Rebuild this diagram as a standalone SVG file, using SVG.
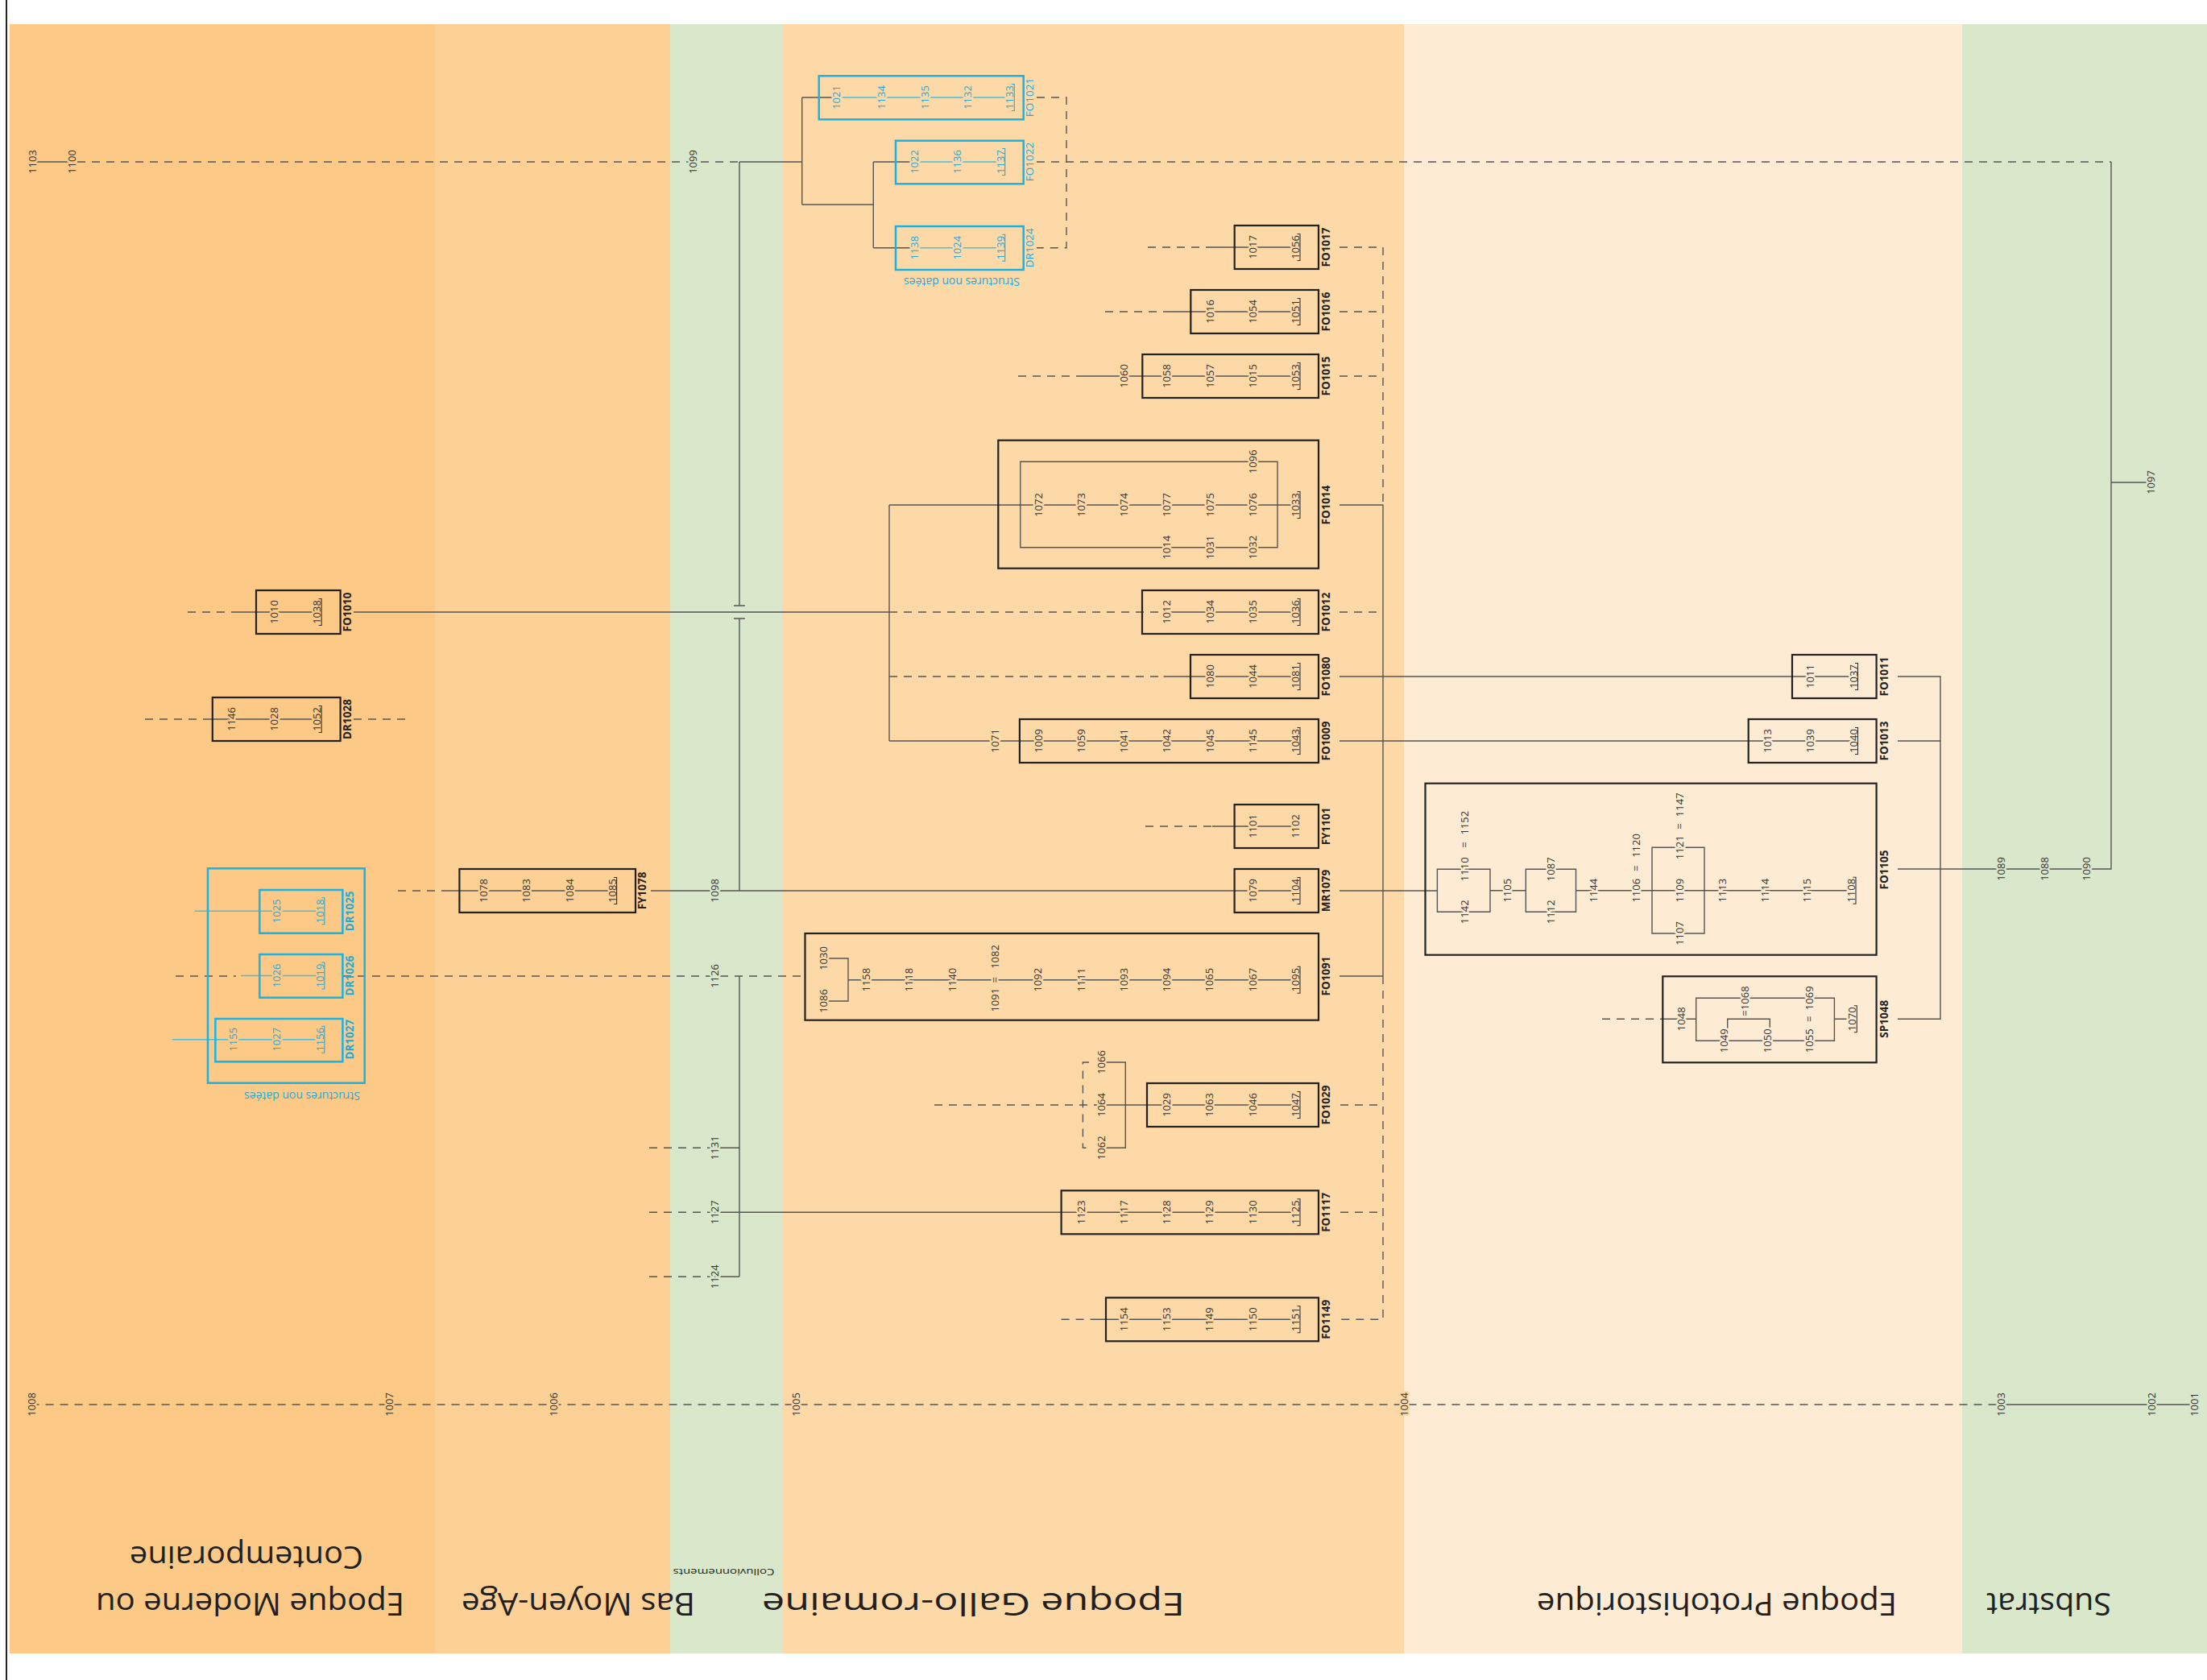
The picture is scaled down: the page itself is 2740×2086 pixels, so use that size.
<svg xmlns="http://www.w3.org/2000/svg" width="2740" height="2086" viewBox="0 0 2740 2086">
<defs><path id="ub" d="M-3.5 -16.5H0V16.5H-3.5"/></defs>
<style>
text{font-family:"Open Sans","Liberation Sans",sans-serif}
.n{font-size:13px;fill:#333;text-anchor:middle;dominant-baseline:central;stroke-width:5px;paint-order:stroke;stroke-linejoin:round}
.c{fill:#2AA8D6}
.h1{stroke:#FCC987}.h2{stroke:#FDD096}.hg{stroke:#D9E7CB}.h4{stroke:#FED9A8}.h5{stroke:#FEEBD3}
.lb{font-size:13.5px;font-weight:700;fill:#222;text-anchor:middle;dominant-baseline:central}
.lc{fill:#22A9DC}.lr{font-weight:400}
.t{font-size:38px;fill:#231F20;text-anchor:middle}
.s{fill:none;stroke:#555;stroke-width:1.4}
.d{fill:none;stroke:#555;stroke-width:1.4;stroke-dasharray:10 8}
.cy{fill:none;stroke:#4DBCD6;stroke-width:1.4}
.bx{fill:none;stroke:#222;stroke-width:2.2}
.cb{fill:none;stroke:#16B4E6;stroke-width:2.5}
.u{fill:none;stroke:#333;stroke-width:1.1}
.uc{fill:none;stroke:#2AA8D6;stroke-width:1.1}
</style>
<g id="bands">
<rect x="12" y="30" width="528" height="2023" fill="#FCC987"/>
<rect x="540" y="30" width="292" height="2023" fill="#FDD096"/>
<rect x="832" y="30" width="139" height="2023" fill="#D9E7CB"/>
<rect x="971" y="30" width="772" height="2023" fill="#FED9A8"/>
<rect x="1743" y="30" width="693" height="2023" fill="#FEEBD3"/>
<rect x="2436" y="30" width="304" height="2023" fill="#D9E7CB"/>
<line x1="8" y1="0" x2="8" y2="2086" stroke="#222" stroke-width="2"/>
</g>
<g id="titles">
<text class="t" x="310.5" y="1978" transform="rotate(180 310.5 1978)" textLength="383" lengthAdjust="spacingAndGlyphs">Epoque Moderne ou</text>
<text class="t" x="306" y="1920" transform="rotate(180 306 1920)" textLength="290" lengthAdjust="spacingAndGlyphs">Contemporaine</text>
<text class="t" x="718" y="1978" transform="rotate(180 718 1978)" textLength="290" lengthAdjust="spacingAndGlyphs">Bas Moyen-Age</text>
<text class="t" x="898.5" y="1948" transform="rotate(180 898.5 1948)" textLength="126" lengthAdjust="spacingAndGlyphs" style="font-size:10.5px">Colluvionnements</text>
<text class="t" x="1208.5" y="1978" transform="rotate(180 1208.5 1978)" textLength="525" lengthAdjust="spacingAndGlyphs">Epoque Gallo-romaine</text>
<text class="t" x="2131.5" y="1978" transform="rotate(180 2131.5 1978)" textLength="447" lengthAdjust="spacingAndGlyphs">Epoque Protohistorique</text>
<text class="t" x="2543.5" y="1978" transform="rotate(180 2543.5 1978)" textLength="155" lengthAdjust="spacingAndGlyphs">Substrat</text>
</g>
<g id="connectors">
<path class="s" d="M40 201H89 M918 201H995.7 M995.7 121V254 M995.7 121H1038 M995.7 254H1084.3 M1084.3 201V307.7 M1084.3 201H1135 M1084.3 307.7H1135 M918 201V752 M911 752H925 M911 768H925 M918 768V1106 M918 1212V1585 M2621 201V1079H2484 M2621 599H2670 M2356 1079H2484 M1503 307H1608 M1450 387H1608 M1342 467H1608 M1104 627H1608 M1266.8 573.3H1586V679.7H1266.8Z M1663 627H1717V1212 M1448 760H1608 M290 760H393 M439 760H1104 M1104 627V920 M1444.6 840H1608 M1663 840H2300.5 M1104 920H1608 M1663 920H2300.5 M2356 840H2409V1265.3H2356 M2356 920H2409 M258 893H393 M1505 1026H1608 M554 1106H760 M808 1106H1608 M1663 1106H1784.4 M1022 1190H1053V1243H1022 M1053 1216.7H1608 M1663 1212H1717 M1366.7 1319H1397.3V1425.3H1366.7 M1366.7 1372H1608 M887 1425.3H918 M887 1505.3H1608 M887 1585.3H918 M1361 1638.3H1608 M1784.4 1079.3H1850V1132.3H1784.4Z M1850 1105.7H1894.3 M1894.3 1079.3H1956.5V1132.3H1894.3Z M1956.5 1105.7H2298 M2051 1052.3H2116V1159H2051Z M2064.3 1265.3H2105.7 M2105.7 1239.3H2277.4V1292.3H2105.7Z M2144.7 1278V1265.3H2197.3V1278 M2277.4 1265.3H2299.3 M2484 1744H2724"/>
<path class="d" d="M96 201H918 M1425 307H1503 M1372 387H1450 M1264 467H1342 M1663 307H1717V627 M1663 387H1717 M1663 467H1717 M1104 760H1448 M1663 760H1717 M233 760H290 M1104 840H1444.6 M180 893H258 M439 893H511 M1422 1026H1505 M494 1106H554 M218 1212H293 M426 1212H999.5 M1160 1372H1366.7 M1352 1319H1344.4V1425.3H1352 M1664 1372H1717 M1717 1212V1638.3H1664 M1664 1505.3H1717 M806 1425.3H887 M806 1505.3H887 M806 1585.3H887 M1317.6 1638.3H1361 M1287 121H1324V307.7H1287 M1287 201H2621 M1989 1265.3H2064.3 M38.5 1744H2484"/>
<path class="cy" d="M1038 121H1253.3 M1135 201H1241.7 M1135 307.7H1241.7 M241.5 1131.3H397 M299 1211.5H397 M213.8 1290.7H397"/>
</g>
<g id="u1103"><text class="n h1" transform="translate(40 201)rotate(-90)">1103</text></g>
<g id="u1100"><text class="n h1" transform="translate(89 201)rotate(-90)">1100</text></g>
<g id="u1099"><text class="n hg" transform="translate(860 201)rotate(-90)">1099</text></g>
<g id="u1098"><text class="n hg" transform="translate(886.5 1106)rotate(-90)">1098</text></g>
<g id="u1126"><text class="n hg" transform="translate(886.5 1212)rotate(-90)">1126</text></g>
<g id="u1131"><text class="n hg" transform="translate(887 1425.3)rotate(-90)">1131</text></g>
<g id="u1127"><text class="n hg" transform="translate(887 1505.3)rotate(-90)">1127</text></g>
<g id="u1124"><text class="n hg" transform="translate(887 1585.3)rotate(-90)">1124</text></g>
<g id="u1097"><text class="n hg" transform="translate(2670 599)rotate(-90)">1097</text></g>
<g id="u1089"><text class="n hg" transform="translate(2484 1079)rotate(-90)">1089</text></g>
<g id="u1088"><text class="n hg" transform="translate(2537.5 1079)rotate(-90)">1088</text></g>
<g id="u1090"><text class="n hg" transform="translate(2590 1079)rotate(-90)">1090</text></g>
<g id="u1060"><text class="n h4" transform="translate(1394.5 467)rotate(-90)">1060</text></g>
<g id="u1071"><text class="n h4" transform="translate(1235 920)rotate(-90)">1071</text></g>
<g id="u1066"><text class="n h4" transform="translate(1366.7 1319)rotate(-90)">1066</text></g>
<g id="u1064"><text class="n h4" transform="translate(1366.7 1372)rotate(-90)">1064</text></g>
<g id="u1062"><text class="n h4" transform="translate(1366.7 1425.3)rotate(-90)">1062</text></g>
<g id="bottom-row">
<text class="n h1" transform="translate(38.5 1744)rotate(-90)">1008</text>
<text class="n h1" transform="translate(482.5 1744)rotate(-90)">1007</text>
<text class="n h2" transform="translate(687 1744)rotate(-90)">1006</text>
<text class="n h4" transform="translate(987.8 1744)rotate(-90)">1005</text>
<text class="n h4" transform="translate(1743 1744)rotate(-90)">1004</text>
<text class="n hg" transform="translate(2484 1744)rotate(-90)">1003</text>
<text class="n hg" transform="translate(2671 1744)rotate(-90)">1002</text>
<text class="n hg" transform="translate(2724 1744)rotate(-90)">1001</text>
</g>
<g id="FO1021"><rect class="cb" x="1016.7" y="94.3" width="254" height="54"/>
<text class="n c h4" transform="translate(1038.3 121)rotate(-90)">1021</text>
<text class="n c h4" transform="translate(1094 121)rotate(-90)">1134</text>
<text class="n c h4" transform="translate(1148.3 121)rotate(-90)">1135</text>
<text class="n c h4" transform="translate(1201 121)rotate(-90)">1132</text>
<text class="n c h4" transform="translate(1253.3 121)rotate(-90)">1133</text>
<use href="#ub" x="1259.3" y="121" class="uc"/>
<text class="lb lc lr" transform="translate(1278.3 121)rotate(-90)">FO1021</text></g>
<g id="FO1022"><rect class="cb" x="1112" y="174.7" width="158.7" height="53.6"/>
<text class="n c h4" transform="translate(1135 201)rotate(-90)">1022</text>
<text class="n c h4" transform="translate(1188.3 201)rotate(-90)">1136</text>
<text class="n c h4" transform="translate(1241.7 201)rotate(-90)">1137</text>
<use href="#ub" x="1247.7" y="201" class="uc"/>
<text class="lb lc lr" transform="translate(1278.3 201)rotate(-90)">FO1022</text></g>
<g id="DR1024"><rect class="cb" x="1112" y="281" width="158.7" height="54"/>
<text class="n c h4" transform="translate(1135 307.7)rotate(-90)">1138</text>
<text class="n c h4" transform="translate(1188.3 307.7)rotate(-90)">1024</text>
<text class="n c h4" transform="translate(1241.7 307.7)rotate(-90)">1139</text>
<use href="#ub" x="1247.7" y="307.7" class="uc"/>
<text class="lb lc lr" transform="translate(1278.3 307.7)rotate(-90)">DR1024</text></g>
<g id="note-top"><text x="1194" y="345" transform="rotate(180 1194 345)" textLength="144" lengthAdjust="spacingAndGlyphs" style="font-size:14px;fill:#22A9DC;text-anchor:middle">Structures non datées</text></g>
<g id="FO1017"><rect class="bx" x="1532.7" y="280" width="104.3" height="54"/>
<text class="n h4" transform="translate(1555 307)rotate(-90)">1017</text>
<text class="n h4" transform="translate(1608 307)rotate(-90)">1056</text>
<use href="#ub" x="1614" y="307" class="u"/>
<text class="lb" transform="translate(1646 307)rotate(-90)">FO1017</text></g>
<g id="FO1016"><rect class="bx" x="1478.3" y="360" width="158.7" height="54"/>
<text class="n h4" transform="translate(1501.5 387)rotate(-90)">1016</text>
<text class="n h4" transform="translate(1555 387)rotate(-90)">1054</text>
<text class="n h4" transform="translate(1608 387)rotate(-90)">1051</text>
<use href="#ub" x="1614" y="387" class="u"/>
<text class="lb" transform="translate(1646 387)rotate(-90)">FO1016</text></g>
<g id="FO1015"><rect class="bx" x="1418.3" y="440" width="218.7" height="54"/>
<text class="n h4" transform="translate(1448 467)rotate(-90)">1058</text>
<text class="n h4" transform="translate(1501.5 467)rotate(-90)">1057</text>
<text class="n h4" transform="translate(1555 467)rotate(-90)">1015</text>
<text class="n h4" transform="translate(1608 467)rotate(-90)">1053</text>
<use href="#ub" x="1614" y="467" class="u"/>
<text class="lb" transform="translate(1646 467)rotate(-90)">FO1015</text></g>
<g id="FO1014"><rect class="bx" x="1239.3" y="546.7" width="397.7" height="159"/>
<text class="n h4" transform="translate(1288.5 627)rotate(-90)">1072</text>
<text class="n h4" transform="translate(1341.5 627)rotate(-90)">1073</text>
<text class="n h4" transform="translate(1394.5 627)rotate(-90)">1074</text>
<text class="n h4" transform="translate(1448 627)rotate(-90)">1077</text>
<text class="n h4" transform="translate(1501.5 627)rotate(-90)">1075</text>
<text class="n h4" transform="translate(1555 627)rotate(-90)">1076</text>
<text class="n h4" transform="translate(1608 627)rotate(-90)">1033</text>
<use href="#ub" x="1614" y="627" class="u"/>
<text class="n h4" transform="translate(1555 573.3)rotate(-90)">1096</text>
<text class="n h4" transform="translate(1448 679.7)rotate(-90)">1014</text>
<text class="n h4" transform="translate(1501.5 679.7)rotate(-90)">1031</text>
<text class="n h4" transform="translate(1555 679.7)rotate(-90)">1032</text>
<text class="lb" transform="translate(1646 627)rotate(-90)">FO1014</text></g>
<g id="FO1010"><rect class="bx" x="318" y="733" width="104.6" height="54"/>
<text class="n h1" transform="translate(340.3 760)rotate(-90)">1010</text>
<text class="n h1" transform="translate(393.2 760)rotate(-90)">1038</text>
<use href="#ub" x="399.2" y="760" class="u"/>
<text class="lb" transform="translate(431 760)rotate(-90)">FO1010</text></g>
<g id="FO1012"><rect class="bx" x="1418" y="733" width="219" height="54"/>
<text class="n h4" transform="translate(1448 760)rotate(-90)">1012</text>
<text class="n h4" transform="translate(1501.5 760)rotate(-90)">1034</text>
<text class="n h4" transform="translate(1555 760)rotate(-90)">1035</text>
<text class="n h4" transform="translate(1608 760)rotate(-90)">1036</text>
<use href="#ub" x="1614" y="760" class="u"/>
<text class="lb" transform="translate(1646 760)rotate(-90)">FO1012</text></g>
<g id="FO1080"><rect class="bx" x="1478" y="813" width="159" height="54"/>
<text class="n h4" transform="translate(1501.5 840)rotate(-90)">1080</text>
<text class="n h4" transform="translate(1555 840)rotate(-90)">1044</text>
<text class="n h4" transform="translate(1608 840)rotate(-90)">1081</text>
<use href="#ub" x="1614" y="840" class="u"/>
<text class="lb" transform="translate(1646 840)rotate(-90)">FO1080</text></g>
<g id="FO1009"><rect class="bx" x="1265.9" y="893" width="371.1" height="54"/>
<text class="n h4" transform="translate(1288.5 920)rotate(-90)">1009</text>
<text class="n h4" transform="translate(1341.5 920)rotate(-90)">1059</text>
<text class="n h4" transform="translate(1394.5 920)rotate(-90)">1041</text>
<text class="n h4" transform="translate(1448 920)rotate(-90)">1042</text>
<text class="n h4" transform="translate(1501.5 920)rotate(-90)">1045</text>
<text class="n h4" transform="translate(1555 920)rotate(-90)">1145</text>
<text class="n h4" transform="translate(1608 920)rotate(-90)">1043</text>
<use href="#ub" x="1614" y="920" class="u"/>
<text class="lb" transform="translate(1646 920)rotate(-90)">FO1009</text></g>
<g id="DR1028"><rect class="bx" x="263.8" y="866" width="158.8" height="54"/>
<text class="n h1" transform="translate(287.4 893)rotate(-90)">1146</text>
<text class="n h1" transform="translate(340.3 893)rotate(-90)">1028</text>
<text class="n h1" transform="translate(393.2 893)rotate(-90)">1052</text>
<use href="#ub" x="399.2" y="893" class="u"/>
<text class="lb" transform="translate(431 893)rotate(-90)">DR1028</text></g>
<g id="FY1101"><rect class="bx" x="1532.6" y="999" width="104.4" height="54"/>
<text class="n h4" transform="translate(1555 1026)rotate(-90)">1101</text>
<text class="n h4" transform="translate(1608 1026)rotate(-90)">1102</text>
<text class="lb" transform="translate(1646 1026)rotate(-90)">FY1101</text></g>
<g id="FY1078"><rect class="bx" x="570.4" y="1079" width="218.6" height="54"/>
<text class="n h2" transform="translate(599.7 1106)rotate(-90)">1078</text>
<text class="n h2" transform="translate(652.5 1106)rotate(-90)">1083</text>
<text class="n h2" transform="translate(706.8 1106)rotate(-90)">1084</text>
<text class="n h2" transform="translate(759.6 1106)rotate(-90)">1085</text>
<use href="#ub" x="765.6" y="1106" class="u"/>
<text class="lb" transform="translate(797 1106)rotate(-90)">FY1078</text></g>
<g id="MR1079"><rect class="bx" x="1532.6" y="1079" width="104.4" height="54"/>
<text class="n h4" transform="translate(1555 1106)rotate(-90)">1079</text>
<text class="n h4" transform="translate(1608 1106)rotate(-90)">1104</text>
<use href="#ub" x="1614" y="1106" class="u"/>
<text class="lb" transform="translate(1646 1106)rotate(-90)">MR1079</text></g>
<g id="undated-left"><rect class="cb" x="258" y="1078.3" width="194.7" height="266.4"/>
<text x="375" y="1356" transform="rotate(180 375 1356)" textLength="144" lengthAdjust="spacingAndGlyphs" style="font-size:14px;fill:#22A9DC;text-anchor:middle">Structures non datées</text></g>
<g id="DR1025"><rect class="cb" x="322.3" y="1105" width="103.1" height="53.7"/>
<text class="n c h1" transform="translate(343.3 1131.3)rotate(-90)">1025</text>
<text class="n c h1" transform="translate(396.9 1131.3)rotate(-90)">1018</text>
<use href="#ub" x="402.9" y="1131.3" class="uc"/>
<text class="lb lc" transform="translate(434 1131.3)rotate(-90)">DR1025</text></g>
<g id="DR1026"><rect class="cb" x="322.3" y="1185" width="103.1" height="53.7"/>
<text class="n c h1" transform="translate(343.3 1211.5)rotate(-90)">1026</text>
<text class="n c h1" transform="translate(396.9 1211.5)rotate(-90)">1019</text>
<use href="#ub" x="402.9" y="1211.5" class="uc"/>
<text class="lb lc" transform="translate(434 1211.5)rotate(-90)">DR1026</text></g>
<g id="DR1027"><rect class="cb" x="267.4" y="1265" width="158" height="53.3"/>
<text class="n c h1" transform="translate(289.3 1290.7)rotate(-90)">1155</text>
<text class="n c h1" transform="translate(343.3 1290.7)rotate(-90)">1027</text>
<text class="n c h1" transform="translate(396.9 1290.7)rotate(-90)">1156</text>
<use href="#ub" x="402.9" y="1290.7" class="uc"/>
<text class="lb lc" transform="translate(434 1290.7)rotate(-90)">DR1027</text></g>
<g id="FO1091"><rect class="bx" x="999.5" y="1159" width="637.5" height="107.7"/>
<text class="n h4" transform="translate(1022 1190)rotate(-90)">1030</text>
<text class="n h4" transform="translate(1022 1243)rotate(-90)">1086</text>
<text class="n h4" transform="translate(1075 1216.7)rotate(-90)">1158</text>
<text class="n h4" transform="translate(1128.3 1216.7)rotate(-90)">1118</text>
<text class="n h4" transform="translate(1181.6 1216.7)rotate(-90)">1140</text>
<text class="n h4" transform="translate(1234.9 1216.7)rotate(-90)">=</text>
<text class="n h4" transform="translate(1234.9 1188)rotate(-90)">1082</text>
<text class="n h4" transform="translate(1234.9 1241.7)rotate(-90)">1091</text>
<text class="n h4" transform="translate(1288.2 1216.7)rotate(-90)">1092</text>
<text class="n h4" transform="translate(1341.5 1216.7)rotate(-90)">1111</text>
<text class="n h4" transform="translate(1394.8 1216.7)rotate(-90)">1093</text>
<text class="n h4" transform="translate(1448 1216.7)rotate(-90)">1094</text>
<text class="n h4" transform="translate(1501.4 1216.7)rotate(-90)">1065</text>
<text class="n h4" transform="translate(1554.7 1216.7)rotate(-90)">1067</text>
<text class="n h4" transform="translate(1608 1216.7)rotate(-90)">1095</text>
<use href="#ub" x="1614" y="1216.7" class="u"/>
<text class="lb" transform="translate(1646 1212)rotate(-90)">FO1091</text></g>
<g id="FO1029"><rect class="bx" x="1424" y="1345" width="213" height="54"/>
<text class="n h4" transform="translate(1448 1372)rotate(-90)">1029</text>
<text class="n h4" transform="translate(1501.4 1372)rotate(-90)">1063</text>
<text class="n h4" transform="translate(1554.7 1372)rotate(-90)">1046</text>
<text class="n h4" transform="translate(1608 1372)rotate(-90)">1047</text>
<use href="#ub" x="1614" y="1372" class="u"/>
<text class="lb" transform="translate(1646 1372)rotate(-90)">FO1029</text></g>
<g id="FO1117"><rect class="bx" x="1317.6" y="1478.3" width="319.4" height="54"/>
<text class="n h4" transform="translate(1341.5 1505.3)rotate(-90)">1123</text>
<text class="n h4" transform="translate(1394.8 1505.3)rotate(-90)">1117</text>
<text class="n h4" transform="translate(1448 1505.3)rotate(-90)">1128</text>
<text class="n h4" transform="translate(1501.4 1505.3)rotate(-90)">1129</text>
<text class="n h4" transform="translate(1554.7 1505.3)rotate(-90)">1130</text>
<text class="n h4" transform="translate(1608 1505.3)rotate(-90)">1125</text>
<use href="#ub" x="1614" y="1505.3" class="u"/>
<text class="lb" transform="translate(1646 1505.3)rotate(-90)">FO1117</text></g>
<g id="FO1149"><rect class="bx" x="1373" y="1611.3" width="264" height="54"/>
<text class="n h4" transform="translate(1394.8 1638.3)rotate(-90)">1154</text>
<text class="n h4" transform="translate(1448 1638.3)rotate(-90)">1153</text>
<text class="n h4" transform="translate(1501.4 1638.3)rotate(-90)">1149</text>
<text class="n h4" transform="translate(1554.7 1638.3)rotate(-90)">1150</text>
<text class="n h4" transform="translate(1608 1638.3)rotate(-90)">1151</text>
<use href="#ub" x="1614" y="1638.3" class="u"/>
<text class="lb" transform="translate(1646 1638.3)rotate(-90)">FO1149</text></g>
<g id="FO1011"><rect class="bx" x="2225" y="813" width="104.6" height="54"/>
<text class="n h5" transform="translate(2246.7 840)rotate(-90)">1011</text>
<text class="n h5" transform="translate(2300.5 840)rotate(-90)">1037</text>
<use href="#ub" x="2306.5" y="840" class="u"/>
<text class="lb" transform="translate(2338.5 840)rotate(-90)">FO1011</text></g>
<g id="FO1013"><rect class="bx" x="2170.7" y="893" width="158.9" height="54"/>
<text class="n h5" transform="translate(2194 920)rotate(-90)">1013</text>
<text class="n h5" transform="translate(2246.7 920)rotate(-90)">1039</text>
<text class="n h5" transform="translate(2300.5 920)rotate(-90)">1040</text>
<use href="#ub" x="2306.5" y="920" class="u"/>
<text class="lb" transform="translate(2338.5 920)rotate(-90)">FO1013</text></g>
<g id="FO1105"><rect class="bx" x="1769.5" y="972.7" width="560.1" height="213"/>
<text class="n h5" transform="translate(1818.4 1079.3)rotate(-90)">1110</text>
<text class="n h5" transform="translate(1818.4 1049)rotate(-90)">=</text>
<text class="n h5" transform="translate(1818.4 1021.7)rotate(-90)">1152</text>
<text class="n h5" transform="translate(1818.4 1132.3)rotate(-90)">1142</text>
<text class="n h5" transform="translate(1871 1105.7)rotate(-90)">1105</text>
<text class="n h5" transform="translate(1925.4 1079.3)rotate(-90)">1087</text>
<text class="n h5" transform="translate(1925.4 1132.3)rotate(-90)">1112</text>
<text class="n h5" transform="translate(1977.6 1105.7)rotate(-90)">1144</text>
<text class="n h5" transform="translate(2030.7 1105.7)rotate(-90)">1106</text>
<text class="n h5" transform="translate(2030.7 1078.3)rotate(-90)">=</text>
<text class="n h5" transform="translate(2030.7 1050)rotate(-90)">1120</text>
<text class="n h5" transform="translate(2085 1052.3)rotate(-90)">1121</text>
<text class="n h5" transform="translate(2085 1026)rotate(-90)">=</text>
<text class="n h5" transform="translate(2085 999.3)rotate(-90)">1147</text>
<text class="n h5" transform="translate(2085 1105.7)rotate(-90)">1109</text>
<text class="n h5" transform="translate(2085 1159)rotate(-90)">1107</text>
<text class="n h5" transform="translate(2137.6 1105.7)rotate(-90)">1113</text>
<text class="n h5" transform="translate(2190.7 1105.7)rotate(-90)">1114</text>
<text class="n h5" transform="translate(2243.4 1105.7)rotate(-90)">1115</text>
<text class="n h5" transform="translate(2298 1105.7)rotate(-90)">1108</text>
<use href="#ub" x="2304" y="1105.7" class="u"/>
<text class="lb" transform="translate(2338.7 1080)rotate(-90)">FO1105</text></g>
<g id="SP1048"><rect class="bx" x="2064.3" y="1212.3" width="265.3" height="107"/>
<text class="n h5" transform="translate(2086.6 1265.3)rotate(-90)">1048</text>
<text class="n h5" transform="translate(2165.8 1239.3)rotate(-90)">1068</text>
<text class="n h5" transform="translate(2165.8 1258)rotate(-90)">=</text>
<text class="n h5" transform="translate(2246.3 1239.3)rotate(-90)">1069</text>
<text class="n h5" transform="translate(2246.3 1265.3)rotate(-90)">=</text>
<text class="n h5" transform="translate(2139.7 1292.3)rotate(-90)">1049</text>
<text class="n h5" transform="translate(2193.6 1292.3)rotate(-90)">1050</text>
<text class="n h5" transform="translate(2246.3 1292.3)rotate(-90)">1055</text>
<text class="n h5" transform="translate(2299.3 1265.3)rotate(-90)">1070</text>
<use href="#ub" x="2305.3" y="1265.3" class="u"/>
<text class="lb" transform="translate(2338.7 1265.3)rotate(-90)">SP1048</text></g>
</svg>
